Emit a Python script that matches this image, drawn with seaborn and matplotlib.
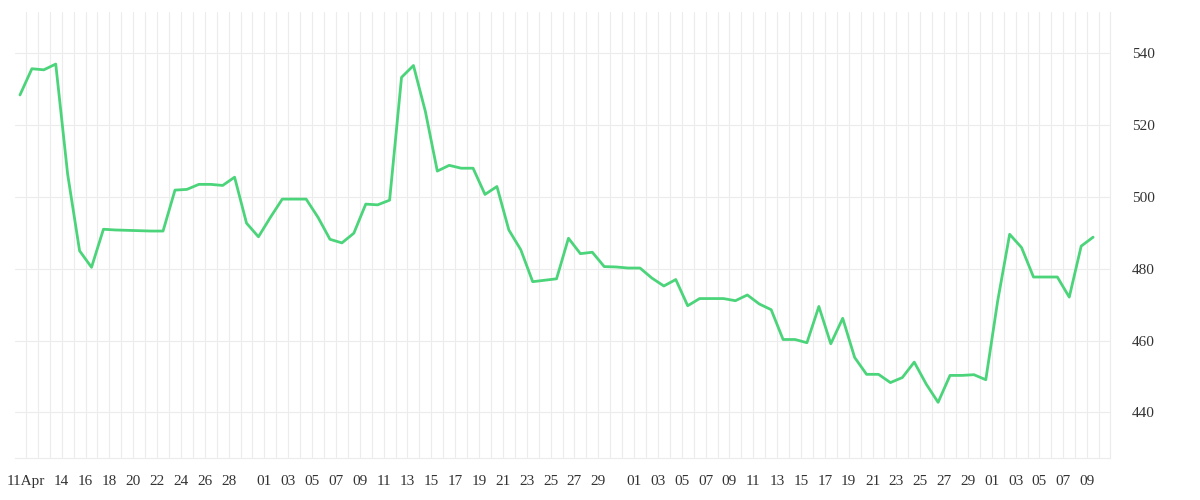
import pandas as pd
import numpy as np
import matplotlib
matplotlib.use("Agg")
import matplotlib.pyplot as plt
import matplotlib.dates as mdates
import seaborn as sns

start_date = "2024-04-10 12:00"
values = [528.4, 535.7, 535.4, 537.0, 506.3, 485.0, 480.4, 491.0, 490.8, 490.7,
          490.6, 490.5, 490.5, 501.9, 502.1, 503.5, 503.5, 503.2, 505.5, 492.7,
          488.9, 494.3, 499.4, 499.4, 499.4, 494.3, 488.2, 487.2, 489.9, 498.0,
          497.8, 499.1, 533.3, 536.6, 523.8, 507.2, 508.8, 508.0, 508.0, 500.7,
          502.9, 490.8, 485.3, 476.4, 476.8, 477.2, 488.5, 484.2, 484.6, 480.6,
          480.5, 480.2, 480.2, 477.4, 475.2, 477.0, 469.7, 471.7, 471.7, 471.7,
          471.1, 472.7, 470.2, 468.6, 460.3, 460.3, 459.4, 469.5, 459.1, 466.2,
          455.3, 450.6, 450.6, 448.3, 449.7, 454.0, 447.9, 442.8, 450.3, 450.3,
          450.5, 449.1, 471.1, 489.6, 485.9, 477.7, 477.7, 477.7, 472.1, 486.3,
          488.8]
tick_dates = (["2024-04-11", "2024-04-14", "2024-04-16", "2024-04-18", "2024-04-20",
               "2024-04-22", "2024-04-24", "2024-04-26", "2024-04-28"]
              + [f"2024-05-{d:02d}" for d in range(1, 30, 2)]
              + [f"2024-06-{d:02d}" for d in range(1, 30, 2)]
              + [f"2024-07-{d:02d}" for d in range(1, 10, 2)])
tick_labels = ["11Apr"] + [d[-2:] for d in tick_dates[1:]]
y_ticks = [440, 460, 480, 500, 520, 540]

df = pd.DataFrame({"date": pd.date_range(start_date, periods=len(values), freq="D"),
                   "value": values})

sns.set_theme(style="white")
plt.rcParams['font.family'] = ['Liberation Serif', 'DejaVu Serif']

fig = plt.figure(figsize=(12, 5), dpi=100)
ax = fig.add_axes([15/1200, 1 - 458/500, (1110-15)/1200, (458-12)/500])
sns.lineplot(data=df, x="date", y="value", ax=ax, color="#4cd47b", linewidth=2.0)

ax.set_xlim(pd.Timestamp("2024-04-10 02:00"), pd.Timestamp("2024-07-10 22:00"))
ax.set_ylim(427.3, 551.5)
ax.set_xticks(pd.to_datetime(tick_dates))
ax.set_xticklabels(tick_labels)
ax.xaxis.set_minor_locator(mdates.DayLocator())
ax.grid(True, which="minor", axis="x", color="#ececec", linewidth=0.8)
ax.grid(True, which="major", axis="x", color="#ececec", linewidth=0.8)
ax.set_yticks(y_ticks)
ax.grid(True, which="major", axis="y", color="#ececec", linewidth=0.8)
ax.yaxis.tick_right()
ax.tick_params(axis="y", length=0, pad=16, labelsize=11, labelcolor="#333333")
ax.tick_params(axis="x", which="both", length=10, color="#ececec", width=0.8,
               labelsize=11, labelcolor="#333333", pad=2)
ax.set_xlabel("")
ax.set_ylabel("")
for s in ["left", "top"]:
    ax.spines[s].set_visible(False)
for s in ["bottom", "right"]:
    ax.spines[s].set_color("#ececec")
    ax.spines[s].set_linewidth(0.8)

fig.savefig("out.png", dpi=100)
